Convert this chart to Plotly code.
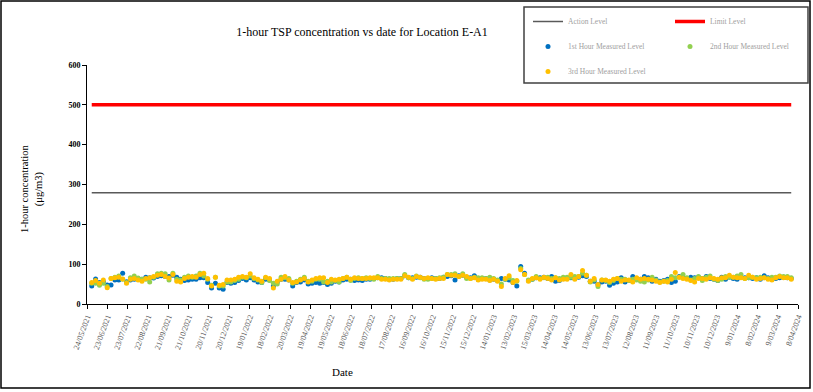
import pandas as pd
import plotly.graph_objects as go

# ---------------- data ----------------
first_hour = [45, 63, 54, 56, 48, 48, 60, 60, 77, 56, 60, 62, 64, 62, 67, 66, 65, 69, 71, 69,
              69, 72, 67, 62, 59, 60, 62, 62, 66, 66, 54, 40, 52, 40, 37, 54, 52, 54, 59, 64,
              60, 66, 60, 55, 54, 62, 60, 45, 55, 62, 62, 60, 45, 54, 55, 60, 50, 52, 54, 52,
              54, 49, 52, 57, 55, 60, 62, 62, 59, 60, 59, 62, 62, 64, 66, 66, 64, 62, 62, 64,
              64, 71, 66, 66, 67, 67, 64, 64, 66, 64, 64, 67, 69, 71, 60, 71, 72, 67, 66, 71,
              62, 64, 64, 60, 62, 59, 64, 62, 60, 54, 45, 94, 77, 59, 62, 66, 66, 67, 64, 69,
              57, 59, 64, 66, 66, 64, 67, 71, 69, 57, 57, 49, 55, 57, 47, 52, 55, 66, 55, 59,
              69, 62, 62, 69, 66, 57, 62, 57, 59, 62, 54, 57, 69, 66, 64, 67, 66, 67, 64, 69,
              64, 62, 59, 67, 62, 67, 64, 62, 67, 66, 66, 64, 66, 62, 71, 66, 64, 64, 66, 67,
              66, 64]
second_hour = [52, 52, 47, 52, 44, 64, 67, 70, 62, 54, 66, 70, 65, 62, 62, 55, 67, 76, 77, 76,
               60, 77, 62, 60, 67, 70, 67, 70, 77, 70, 62, 47, 67, 45, 45, 55, 55, 59, 62, 67,
               66, 70, 64, 60, 54, 66, 59, 52, 50, 67, 66, 64, 52, 57, 62, 67, 57, 57, 62, 62,
               55, 57, 55, 59, 55, 64, 67, 59, 64, 66, 64, 66, 64, 62, 69, 64, 64, 64, 64, 64,
               64, 74, 66, 64, 70, 66, 62, 62, 64, 64, 66, 67, 74, 74, 76, 69, 76, 64, 64, 67,
               66, 66, 64, 67, 64, 60, 50, 62, 66, 59, 57, 89, 74, 60, 62, 69, 64, 66, 67, 64,
               66, 64, 67, 67, 67, 69, 69, 77, 72, 55, 60, 44, 60, 59, 54, 59, 64, 62, 62, 59,
               62, 60, 57, 55, 60, 67, 60, 55, 57, 59, 69, 66, 67, 74, 66, 60, 64, 69, 59, 67,
               70, 62, 59, 62, 69, 67, 67, 70, 74, 64, 66, 67, 66, 67, 66, 64, 67, 67, 70, 69,
               69, 66]
third_hour = [54, 59, 52, 60, 41, 64, 66, 67, 63, 52, 62, 64, 60, 57, 64, 66, 69, 72, 74, 69,
              65, 74, 57, 55, 64, 67, 69, 67, 74, 77, 64, 45, 67, 47, 49, 60, 60, 62, 67, 69,
              67, 76, 66, 62, 57, 67, 64, 40, 57, 62, 69, 60, 54, 55, 60, 64, 55, 60, 64, 66,
              66, 54, 62, 60, 62, 64, 67, 62, 66, 64, 64, 64, 66, 66, 66, 62, 62, 60, 62, 62,
              62, 71, 67, 62, 69, 67, 64, 66, 64, 62, 64, 64, 74, 72, 72, 69, 72, 69, 64, 66,
              60, 62, 62, 59, 62, 57, 44, 64, 71, 54, 59, 86, 74, 57, 64, 66, 62, 67, 64, 60,
              66, 60, 62, 62, 74, 62, 69, 84, 72, 57, 64, 49, 60, 60, 57, 62, 64, 57, 60, 60,
              55, 66, 62, 64, 62, 60, 57, 54, 57, 55, 62, 79, 67, 64, 62, 59, 55, 64, 64, 62,
              66, 64, 62, 66, 66, 72, 67, 66, 66, 64, 72, 67, 62, 64, 66, 62, 60, 66, 69, 66,
              66, 62]
first_date = "2021-05-31"
last_date = "2024-03-29"
action_level = 279
limit_level = 500
tick_labels = ["24/05/2021", "23/06/2021", "23/07/2021", "22/08/2021", "21/09/2021", "21/10/2021",
               "20/11/2021", "20/12/2021", "19/01/2022", "18/02/2022", "20/03/2022", "19/04/2022",
               "19/05/2022", "18/06/2022", "18/07/2022", "17/08/2022", "16/09/2022", "16/10/2022",
               "15/11/2022", "15/12/2022", "14/01/2023", "13/02/2023", "15/03/2023", "14/04/2023",
               "14/05/2023", "13/06/2023", "13/07/2023", "12/08/2023", "11/09/2023", "11/10/2023",
               "10/11/2023", "10/12/2023", "9/01/2024", "8/02/2024", "9/03/2024", "8/04/2024"]

dates = pd.date_range(first_date, last_date, periods=len(first_hour))
tick_vals = pd.to_datetime(tick_labels, format="%d/%m/%Y")

FONT = "Liberation Serif"

fig = go.Figure()
fig.add_trace(go.Scatter(x=[dates[0], dates[-1]], y=[action_level, action_level], mode="lines",
                         name="Action Level", line=dict(color="#595959", width=1.5),
                         legend="legend", legendgroup="a"))
fig.add_trace(go.Scatter(x=[dates[0], dates[-1]], y=[limit_level, limit_level], mode="lines",
                         name="Limit Level", line=dict(color="#FF0000", width=3.5),
                         legend="legend2", legendgroup="b"))
fig.add_trace(go.Scatter(x=dates, y=first_hour, mode="markers", name="1st Hour Measured Level",
                         marker=dict(color="#0070C0", size=5), legend="legend", legendgroup="c"))
fig.add_trace(go.Scatter(x=dates, y=second_hour, mode="markers", name="2nd Hour Measured Level",
                         marker=dict(color="#92D050", size=5), legend="legend2", legendgroup="d"))
fig.add_trace(go.Scatter(x=dates, y=third_hour, mode="markers", name="3rd Hour Measured Level",
                         marker=dict(color="#FFC000", size=5), legend="legend", legendgroup="e"))

L, R, T, B = 87, 798, 65, 304
W, H = 813, 392
pw, ph = R - L, B - T

def px(x):
    return (x - L) / pw

def py(y):
    return (B - y) / ph

legend_common = dict(font=dict(family=FONT, size=7.5, color="#A0A0A0"), bgcolor="rgba(0,0,0,0)",
                     traceorder="grouped", tracegroupgap=6, xref="container", yref="container",
                     xanchor="left", yanchor="top", itemwidth=30)

fig.update_layout(
    width=W, height=H,
    margin=dict(l=L, r=W - R, t=T, b=H - B, autoexpand=False),
    paper_bgcolor="white", plot_bgcolor="white",
    font=dict(family=FONT, color="black"),
    title=dict(text="1-hour TSP concentration vs date for Location E-A1", x=362 / W, xref="container",
               xanchor="center", y=1 - 32 / H, yref="container", yanchor="middle",
               font=dict(family=FONT, size=12, color="black")),
    legend=dict(x=528 / W, y=1 - 7 / H, **legend_common),
    legend2=dict(x=670 / W, y=1 - 7 / H, **legend_common),
    xaxis=dict(type="date", range=[tick_vals[0], tick_vals[-1]], tickvals=tick_vals, ticktext=tick_labels,
               tickangle=-70, ticks="outside", ticklen=4, tickcolor="black", showline=True,
               linecolor="black", linewidth=1, showgrid=False, zeroline=False,
               tickfont=dict(family=FONT, size=8, color="#595959")),
    yaxis=dict(range=[0, 600], dtick=100, ticks="outside", ticklen=4, tickcolor="black",
               showline=True, linecolor="black", linewidth=1, showgrid=False, zeroline=False,
               tickfont=dict(family=FONT, size=8, color="black", weight="bold")),
    shapes=[
        dict(type="rect", xref="paper", yref="paper", x0=px(1), x1=px(810), y0=py(388), y1=py(1),
             line=dict(color="black", width=1.5), fillcolor="rgba(0,0,0,0)", layer="above"),
        dict(type="rect", xref="paper", yref="paper", x0=px(524), x1=px(808), y0=py(83), y1=py(7),
             line=dict(color="#404040", width=1.5), fillcolor="rgba(0,0,0,0)", layer="above"),
    ],
    annotations=[
        dict(text="1-hour concentration<br>(μg/m3)", xref="paper", yref="paper", x=px(32), y=py(189),
             textangle=-90, showarrow=False, font=dict(family=FONT, size=10.5, color="black"),
             xanchor="center", yanchor="middle"),
        dict(text="Date", xref="paper", yref="paper", x=px(342), y=py(372), showarrow=False,
             font=dict(family=FONT, size=11, color="black"), xanchor="center", yanchor="middle"),
    ],
)

fig.write_html("out.html", config={"displayModeBar": False},
               post_script="document.body.style.margin='0';")
